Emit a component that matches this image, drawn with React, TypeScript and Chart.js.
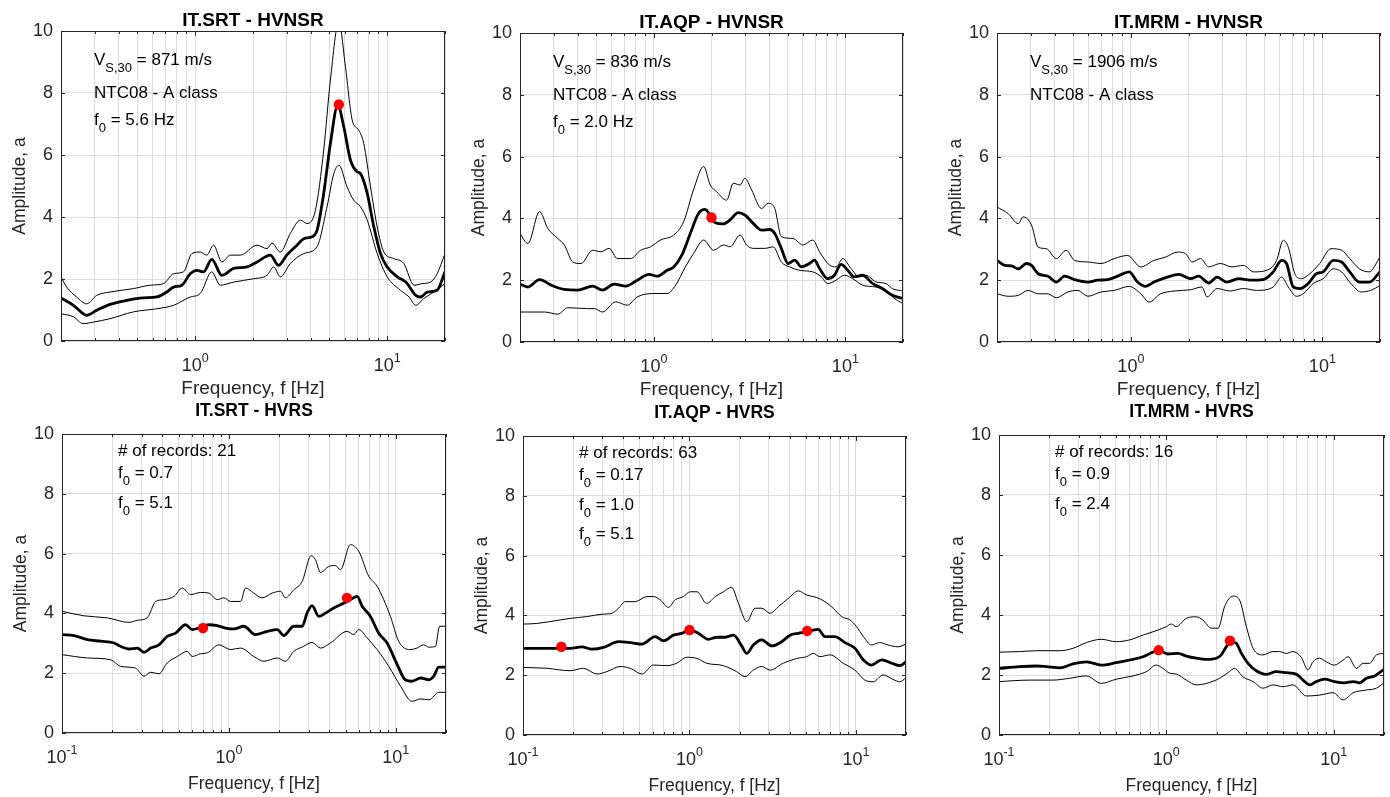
import React, { useEffect, useRef } from "react";
import { Chart, registerables } from "chart.js";

Chart.register(...registerables);

const FONT = '"Liberation Sans", Arial, Helvetica, sans-serif';

// ---------------- axis ticks ----------------
const topGridFreqs = [0.2, 0.3, 0.4, 0.5, 0.6, 0.7, 0.8, 0.9, 1, 2, 3, 4, 5, 6, 7, 8, 9, 10, 20];
const bottomGridFreqs = [0.1, 0.2, 0.3, 0.4, 0.5, 0.6, 0.7, 0.8, 0.9, 1, 2, 3, 4, 5, 6, 7, 8, 9, 10, 20];
const topDecadeLabels = [1, 10];
const bottomDecadeLabels = [0.1, 1, 10];
const ampTicks = [0, 2, 4, 6, 8, 10];

// ---------------- IT.SRT - HVNSR ----------------
const srtNoiseMeanF = [0.2, 0.232, 0.261, 0.272, 0.307, 0.36, 0.44, 0.537, 0.631, 0.711, 0.771, 0.852, 0.942, 1.02, 1.105, 1.22, 1.377, 1.585, 1.86, 2.1, 2.46, 2.72, 3.0, 3.39, 3.675, 4.06, 4.31, 4.67, 5.06, 5.53, 5.94, 6.44, 6.97, 7.26, 7.87, 8.52, 9.23, 10, 11.3, 12.5, 14.1, 14.9, 16.2, 18.2, 20];
const srtNoiseMeanA = [1.39, 1.15, 0.88, 0.83, 0.99, 1.18, 1.31, 1.39, 1.42, 1.58, 1.74, 1.8, 2.17, 2.28, 2.23, 2.63, 2.12, 2.34, 2.39, 2.55, 2.77, 2.44, 2.77, 3.09, 3.3, 3.36, 3.57, 4.76, 6.37, 7.61, 6.91, 5.83, 5.46, 5.4, 4.76, 3.68, 2.82, 2.39, 2.07, 1.9, 1.47, 1.42, 1.58, 1.64, 2.23];
const srtNoiseUpF = [0.2, 0.214, 0.241, 0.272, 0.307, 0.36, 0.477, 0.582, 0.684, 0.771, 0.869, 0.961, 1.062, 1.15, 1.246, 1.377, 1.523, 1.717, 2.1, 2.366, 2.512, 2.775, 3.13, 3.53, 3.826, 4.23, 4.67, 5.06, 5.6, 6.06, 6.57, 7.11, 7.55, 8.19, 8.87, 9.61, 10.8, 12.2, 13.8, 15.2, 16.8, 18.2, 20];
const srtNoiseUpA = [2.07, 1.74, 1.42, 1.2, 1.47, 1.58, 1.69, 1.8, 1.85, 2.17, 2.23, 2.82, 2.87, 2.77, 3.09, 2.55, 2.77, 2.77, 3.09, 2.98, 3.16, 2.87, 3.47, 3.9, 3.79, 4.22, 6.16, 8.42, 10.3, 8.85, 7.13, 6.8, 6.37, 4.97, 3.68, 2.87, 2.66, 2.5, 1.8, 1.85, 1.9, 2.17, 2.82];
const srtNoiseLoF = [0.2, 0.232, 0.261, 0.295, 0.36, 0.477, 0.631, 0.771, 0.942, 1.062, 1.22, 1.35, 1.585, 2.015, 2.366, 2.563, 2.775, 3.13, 3.675, 4.31, 4.86, 5.27, 5.6, 6.18, 6.7, 7.26, 7.87, 8.87, 10, 11.7, 13.0, 14.1, 15.5, 17.5, 20];
const srtNoiseLoA = [0.88, 0.78, 0.56, 0.61, 0.72, 0.94, 1.04, 1.15, 1.42, 1.53, 2.23, 1.8, 1.9, 2.01, 2.12, 2.39, 2.07, 2.5, 2.82, 3.04, 4.33, 5.4, 5.67, 4.97, 4.54, 4.33, 3.9, 2.82, 2.07, 1.64, 1.42, 1.15, 1.37, 1.58, 1.85];
const srtNoisePeakF = [5.6];
const srtNoisePeakA = [7.63];

// ---------------- IT.AQP - HVNSR ----------------
const aqpNoiseMeanF = [0.2, 0.22, 0.253, 0.291, 0.341, 0.4, 0.479, 0.539, 0.62, 0.713, 0.819, 0.942, 1.04, 1.173, 1.27, 1.4, 1.55, 1.71, 1.85, 2.01, 2.09, 2.31, 2.5, 2.76, 2.99, 3.3, 3.65, 4.03, 4.28, 4.63, 5.02, 5.44, 5.89, 6.5, 6.9, 7.33, 8.09, 8.77, 9.5, 10.3, 11.1, 12.3, 13.9, 15.6, 17.6, 20];
const aqpNoiseMeanA = [1.87, 1.78, 2.02, 1.84, 1.7, 1.68, 1.81, 1.68, 1.87, 1.81, 2.0, 2.19, 2.13, 2.32, 2.43, 2.81, 3.51, 4.16, 4.29, 4.0, 3.86, 3.82, 3.95, 4.19, 4.11, 3.84, 3.62, 3.64, 3.51, 3.03, 2.54, 2.65, 2.43, 2.54, 2.65, 2.38, 2.05, 2.16, 2.51, 2.32, 2.11, 2.16, 1.89, 1.73, 1.51, 1.41];
const aqpNoiseUpF = [0.2, 0.22, 0.253, 0.279, 0.315, 0.341, 0.377, 0.416, 0.479, 0.529, 0.584, 0.645, 0.757, 0.853, 0.961, 1.083, 1.27, 1.43, 1.61, 1.82, 1.97, 2.13, 2.4, 2.6, 2.82, 2.99, 3.24, 3.65, 3.95, 4.28, 4.63, 5.33, 6.0, 6.76, 7.33, 8.26, 8.95, 9.69, 10.7, 11.8, 12.8, 14.4, 16.3, 17.6, 20];
const aqpNoiseUpA = [3.51, 3.19, 4.22, 3.68, 3.35, 3.14, 2.59, 2.54, 2.97, 2.92, 3.03, 2.7, 2.7, 2.97, 3.08, 3.3, 3.46, 3.89, 4.92, 5.68, 5.08, 4.86, 4.59, 5.14, 5.08, 5.3, 4.92, 4.32, 4.49, 4.32, 3.41, 3.35, 3.14, 3.3, 2.92, 2.49, 2.43, 2.7, 2.38, 2.11, 2.16, 1.95, 1.89, 1.73, 1.65];
const aqpNoiseLoF = [0.2, 0.269, 0.315, 0.355, 0.451, 0.489, 0.539, 0.632, 0.727, 0.819, 1.0, 1.173, 1.3, 1.46, 1.61, 1.82, 2.05, 2.31, 2.5, 2.82, 3.05, 3.3, 3.8, 4.2, 4.63, 5.12, 5.77, 6.76, 7.48, 8.09, 8.95, 9.89, 10.9, 12.3, 14.4, 16.3, 17.6, 20];
const aqpNoiseLoA = [0.97, 0.97, 0.9, 1.11, 1.08, 1.08, 0.97, 1.3, 1.19, 1.46, 1.57, 1.57, 1.84, 2.43, 2.86, 3.3, 2.97, 3.14, 3.08, 3.46, 3.14, 3.03, 3.03, 3.08, 2.59, 2.43, 2.32, 2.27, 2.11, 1.89, 2.0, 2.16, 2.05, 1.84, 1.78, 1.68, 1.46, 1.24];
const aqpNoisePeakF = [2.0];
const aqpNoisePeakA = [4.03];

// ---------------- IT.MRM - HVNSR ----------------
const mrmNoiseMeanF = [0.2, 0.22, 0.238, 0.258, 0.285, 0.303, 0.328, 0.369, 0.408, 0.451, 0.508, 0.596, 0.671, 0.757, 0.853, 0.98, 1.083, 1.196, 1.32, 1.55, 1.78, 2.05, 2.26, 2.55, 2.82, 3.17, 3.65, 4.2, 4.92, 5.54, 6.13, 6.5, 7.05, 7.63, 8.43, 9.31, 10.1, 11.4, 12.6, 13.9, 15.6, 17.6, 20];
const mrmNoiseMeanA = [2.64, 2.48, 2.46, 2.37, 2.54, 2.48, 2.21, 2.13, 1.94, 2.13, 2.02, 1.94, 2.0, 2.02, 2.13, 2.27, 1.94, 1.8, 1.94, 2.1, 2.19, 2.05, 2.13, 1.91, 2.1, 1.94, 2.05, 2.0, 2.02, 2.27, 2.64, 2.54, 1.78, 1.73, 1.89, 2.21, 2.27, 2.64, 2.59, 2.27, 1.94, 1.94, 2.27];
const mrmNoiseUpF = [0.2, 0.229, 0.258, 0.274, 0.303, 0.328, 0.362, 0.408, 0.46, 0.508, 0.596, 0.699, 0.819, 0.961, 1.127, 1.32, 1.52, 1.75, 1.93, 2.09, 2.31, 2.55, 2.93, 3.37, 3.87, 4.37, 5.33, 5.77, 6.25, 6.64, 7.18, 7.78, 8.6, 9.69, 11.1, 12.6, 13.9, 15.6, 17.6, 20];
const mrmNoiseUpA = [4.37, 4.15, 3.83, 4.05, 3.78, 3.07, 3.02, 2.7, 2.97, 2.64, 2.59, 2.54, 2.7, 2.8, 2.43, 2.64, 2.75, 2.91, 2.86, 2.59, 2.7, 2.43, 2.54, 2.43, 2.48, 2.27, 2.37, 2.64, 3.29, 3.07, 2.21, 2.05, 2.21, 2.54, 3.02, 2.97, 2.7, 2.37, 2.27, 2.75];
const mrmNoiseLoF = [0.2, 0.229, 0.258, 0.291, 0.328, 0.369, 0.408, 0.469, 0.529, 0.596, 0.699, 0.819, 0.98, 1.127, 1.245, 1.43, 1.68, 2.05, 2.35, 2.5, 2.82, 3.3, 3.87, 4.54, 5.54, 6.13, 6.64, 7.33, 7.94, 8.95, 10.1, 11.4, 12.6, 14.1, 15.9, 17.9, 20];
const mrmNoiseLoA = [1.56, 1.48, 1.51, 1.67, 1.56, 1.56, 1.43, 1.62, 1.67, 1.48, 1.62, 1.67, 1.8, 1.56, 1.29, 1.56, 1.65, 1.69, 1.78, 1.46, 1.73, 1.65, 1.73, 1.67, 1.78, 2.1, 1.78, 1.48, 1.56, 1.89, 2.05, 2.37, 2.27, 1.89, 1.62, 1.67, 1.83];
const mrmNoisePeakF: number[] = [];
const mrmNoisePeakA: number[] = [];

// ---------------- IT.SRT - HVRS ----------------
const srtEqMeanF = [0.1, 0.118, 0.142, 0.171, 0.205, 0.224, 0.252, 0.283, 0.31, 0.34, 0.381, 0.427, 0.479, 0.55, 0.603, 0.661, 0.759, 0.851, 0.955, 1.071, 1.23, 1.44, 1.7, 1.95, 2.13, 2.45, 2.75, 2.94, 3.15, 3.46, 3.79, 4.25, 4.66, 5.11, 5.6, 5.87, 6.29, 7.05, 7.91, 8.87, 10.2, 11.4, 12.5, 14.1, 15.8, 16.9, 18.1, 20];
const srtEqMeanA = [3.29, 3.26, 3.12, 3.07, 3.01, 2.9, 2.81, 2.84, 2.7, 2.84, 2.95, 3.23, 3.34, 3.62, 3.46, 3.51, 3.62, 3.59, 3.51, 3.48, 3.57, 3.29, 3.4, 3.46, 3.26, 3.57, 3.57, 4.01, 4.26, 3.9, 4.01, 4.18, 4.29, 4.4, 4.52, 4.57, 4.24, 3.9, 3.34, 3.01, 2.29, 1.78, 1.73, 1.84, 1.78, 1.9, 2.2, 2.2];
const srtEqUpF = [0.1, 0.135, 0.187, 0.252, 0.283, 0.324, 0.364, 0.408, 0.469, 0.526, 0.589, 0.677, 0.759, 0.851, 0.933, 1.023, 1.174, 1.259, 1.41, 1.58, 1.82, 2.04, 2.18, 2.45, 2.75, 3.11, 3.3, 3.54, 3.97, 4.35, 4.66, 5.35, 6.0, 6.89, 7.73, 9.29, 10.4, 12.2, 13.4, 14.7, 15.8, 17.3, 18.3, 20];
const srtEqUpA = [4.07, 3.92, 3.85, 3.7, 3.77, 3.85, 4.4, 4.46, 4.57, 4.85, 4.63, 4.7, 4.68, 4.46, 4.52, 4.4, 4.4, 4.85, 4.68, 4.52, 4.68, 4.74, 4.52, 4.79, 5.07, 5.93, 5.8, 5.37, 5.57, 5.6, 5.46, 6.3, 6.08, 5.24, 4.91, 3.9, 3.07, 2.79, 2.84, 2.95, 2.87, 2.9, 3.57, 3.57];
const srtEqLoF = [0.1, 0.142, 0.196, 0.224, 0.276, 0.31, 0.34, 0.381, 0.427, 0.491, 0.563, 0.603, 0.677, 0.742, 0.871, 1.023, 1.174, 1.41, 1.62, 1.95, 2.18, 2.45, 2.81, 3.15, 3.54, 4.06, 5.11, 5.6, 6.0, 6.74, 7.73, 9.08, 10.7, 12.5, 14.1, 15.8, 18.1, 20];
const srtEqLoA = [2.62, 2.51, 2.45, 2.23, 2.17, 1.9, 2.03, 1.98, 2.34, 2.56, 2.73, 2.56, 2.65, 2.68, 2.95, 2.79, 2.84, 2.56, 2.4, 2.51, 2.4, 2.73, 2.9, 3.03, 2.84, 3.01, 3.4, 3.29, 3.46, 3.18, 2.79, 2.23, 1.56, 1.06, 1.14, 1.11, 1.36, 1.36];
const srtEqPeakF = [0.7, 5.1];
const srtEqPeakA = [3.51, 4.52];

// ---------------- IT.AQP - HVRS ----------------
const aqpEqMeanF = [0.1, 0.133, 0.166, 0.192, 0.226, 0.259, 0.305, 0.375, 0.441, 0.518, 0.622, 0.698, 0.802, 0.9, 1.01, 1.13, 1.3, 1.46, 1.64, 1.84, 2.06, 2.21, 2.42, 2.72, 3.12, 3.58, 4.02, 4.51, 5.06, 5.55, 5.94, 6.52, 7.48, 8.59, 9.86, 11.1, 12.4, 14.3, 16.4, 18.4, 20];
const aqpEqMeanA = [2.9, 2.9, 2.9, 2.9, 2.95, 2.87, 2.93, 3.12, 3.09, 3.04, 3.29, 3.15, 3.34, 3.4, 3.51, 3.4, 3.2, 3.27, 3.27, 3.34, 2.98, 2.73, 3.01, 3.18, 2.98, 3.12, 3.34, 3.4, 3.45, 3.51, 3.53, 3.29, 3.29, 3.09, 2.9, 2.51, 2.34, 2.51, 2.4, 2.32, 2.45];
const aqpEqUpF = [0.1, 0.121, 0.168, 0.192, 0.242, 0.298, 0.342, 0.375, 0.411, 0.472, 0.555, 0.608, 0.667, 0.748, 0.82, 0.92, 1.01, 1.11, 1.27, 1.43, 1.6, 1.79, 1.97, 2.21, 2.48, 2.72, 3.05, 3.42, 3.93, 4.51, 5.06, 5.81, 6.52, 7.31, 8.2, 9.2, 10.1, 11.1, 12.4, 13.9, 15.6, 17.9, 20];
const aqpEqUpA = [3.71, 3.73, 3.85, 3.9, 3.96, 4.04, 4.07, 4.24, 4.46, 4.46, 4.63, 4.63, 4.52, 4.27, 4.52, 4.63, 4.79, 4.79, 4.4, 4.63, 4.79, 4.94, 4.4, 3.79, 4.24, 4.24, 4.07, 4.29, 4.57, 4.82, 4.68, 4.6, 4.46, 4.24, 3.96, 3.85, 3.62, 3.29, 3.01, 3.09, 3.01, 2.95, 3.04];
const aqpEqLoF = [0.1, 0.139, 0.192, 0.231, 0.278, 0.319, 0.384, 0.441, 0.518, 0.608, 0.731, 0.839, 0.964, 1.11, 1.27, 1.6, 1.92, 2.16, 2.42, 2.72, 3.05, 3.66, 4.41, 5.06, 5.55, 6.08, 6.98, 8.39, 9.86, 11.3, 12.7, 14.6, 16.7, 18.4, 20];
const aqpEqLoA = [2.26, 2.23, 2.15, 2.23, 2.04, 2.12, 2.29, 2.23, 2.04, 2.34, 2.32, 2.4, 2.6, 2.56, 2.4, 2.32, 2.12, 1.95, 2.17, 2.29, 2.17, 2.4, 2.56, 2.62, 2.73, 2.62, 2.68, 2.4, 2.17, 1.84, 1.78, 2.01, 1.86, 1.78, 1.92];
const aqpEqPeakF = [0.17, 1.0, 5.1];
const aqpEqPeakA = [2.95, 3.51, 3.48];

// ---------------- IT.MRM - HVRS ----------------
const mrmEqMeanF = [0.1, 0.133, 0.167, 0.192, 0.231, 0.277, 0.333, 0.409, 0.502, 0.604, 0.726, 0.832, 0.912, 1.023, 1.174, 1.317, 1.511, 1.734, 1.99, 2.13, 2.28, 2.44, 2.62, 2.81, 3.08, 3.45, 3.96, 4.54, 5.21, 5.98, 6.56, 7.19, 7.87, 8.84, 10.1, 11.6, 13.1, 14.3, 15.7, 17.6, 20];
const mrmEqMeanA = [2.22, 2.28, 2.3, 2.28, 2.24, 2.37, 2.44, 2.33, 2.41, 2.5, 2.61, 2.76, 2.81, 2.7, 2.72, 2.63, 2.56, 2.52, 2.56, 2.67, 2.94, 3.11, 3.06, 2.72, 2.39, 2.14, 2.02, 2.11, 2.08, 2.03, 1.83, 1.67, 1.78, 1.86, 1.78, 1.74, 1.78, 1.74, 1.89, 1.97, 2.19];
const mrmEqUpF = [0.1, 0.133, 0.167, 0.231, 0.277, 0.333, 0.409, 0.502, 0.604, 0.726, 0.832, 1.0, 1.071, 1.147, 1.317, 1.511, 1.656, 1.857, 2.04, 2.23, 2.5, 2.74, 3.01, 3.3, 3.78, 4.34, 4.75, 5.21, 5.71, 6.41, 7.02, 7.52, 8.25, 9.04, 10.1, 11.4, 12.2, 13.7, 15.0, 16.4, 18.0, 20];
const mrmEqUpA = [2.76, 2.78, 2.81, 2.81, 2.89, 3.08, 3.19, 3.11, 3.17, 3.33, 3.44, 3.61, 3.7, 3.61, 3.89, 3.94, 3.83, 3.56, 3.56, 4.28, 4.63, 4.5, 3.61, 2.89, 2.67, 2.78, 2.78, 2.72, 2.78, 2.59, 2.17, 2.44, 2.56, 2.44, 2.33, 2.5, 2.61, 2.22, 2.39, 2.39, 2.67, 2.72];
const mrmEqLoF = [0.1, 0.152, 0.21, 0.264, 0.333, 0.409, 0.502, 0.632, 0.759, 0.871, 0.955, 1.047, 1.147, 1.317, 1.511, 1.734, 2.08, 2.34, 2.56, 2.87, 3.3, 3.78, 4.34, 4.98, 5.71, 6.87, 8.25, 9.91, 11.4, 13.1, 15.7, 18.0, 20];
const mrmEqLoA = [1.78, 1.83, 1.83, 1.89, 1.97, 1.72, 1.86, 1.97, 2.11, 2.33, 2.22, 2.06, 2.03, 1.83, 1.67, 1.72, 1.89, 2.08, 2.22, 1.94, 1.78, 1.56, 1.67, 1.61, 1.67, 1.3, 1.33, 1.41, 1.17, 1.41, 1.5, 1.56, 1.74];
const mrmEqPeakF = [0.9, 2.4];
const mrmEqPeakA = [2.83, 3.14];

// ---------------- text ----------------
type Seg = [string, boolean]; // [text, isSubscript]
const srtNoiseNotes: Seg[][] = [
  [["V", false], ["S,30", true], [" = 871 m/s", false]],
  [["NTC08 - A class", false]],
  [["f", false], ["0", true], [" = 5.6 Hz", false]],
];
const aqpNoiseNotes: Seg[][] = [
  [["V", false], ["S,30", true], [" = 836 m/s", false]],
  [["NTC08 - A class", false]],
  [["f", false], ["0", true], [" = 2.0 Hz", false]],
];
const mrmNoiseNotes: Seg[][] = [
  [["V", false], ["S,30", true], [" = 1906 m/s", false]],
  [["NTC08 - A class", false]],
];
const srtEqNotes: Seg[][] = [
  [["# of records: 21", false]],
  [["f", false], ["0", true], [" = 0.7", false]],
  [["f", false], ["0", true], [" = 5.1", false]],
];
const aqpEqNotes: Seg[][] = [
  [["# of records: 63", false]],
  [["f", false], ["0", true], [" = 0.17", false]],
  [["f", false], ["0", true], [" = 1.0", false]],
  [["f", false], ["0", true], [" = 5.1", false]],
];
const mrmEqNotes: Seg[][] = [
  [["# of records: 16", false]],
  [["f", false], ["0", true], [" = 0.9", false]],
  [["f", false], ["0", true], [" = 2.4", false]],
];

const xAxisTitle = "Frequency, f [Hz]";
const yAxisTitle = "Amplitude, a";

// ---------------- layout / style ----------------
type Rect = { l: number; r: number; t: number; b: number };
const Y_AXIS_W = 45;
const rowStyles = [
  { canvasTop: 0, canvasH: 400, titleSize: 19, titleDy: -5, xLabelSize: 19, xLabelDy: 53, noteDx: 33, noteDys: [34, 67, 94, 121] },
  { canvasTop: 400, canvasH: 397, titleSize: 17.5, titleDy: -18, xLabelSize: 17.5, xLabelDy: 56, noteDx: 56, noteDys: [22, 44, 73.5, 103] },
];
const colCanvas = [
  { x: 0, w: 460 },
  { x: 460, w: 470 },
  { x: 930, w: 460 },
];

type PanelCfg = {
  key: string;
  title: string;
  row: number;
  col: number;
  plot: Rect;
  xMin: number;
  grid: number[];
  decades: number[];
  mean: [number[], number[]];
  upper: [number[], number[]];
  lower: [number[], number[]];
  peaks: [number[], number[]];
  notes: Seg[][];
};

const panels: PanelCfg[] = [
  { key: "a", title: "IT.SRT - HVNSR", row: 0, col: 0, plot: { l: 61, r: 445, t: 31, b: 341 }, xMin: 0.2, grid: topGridFreqs, decades: topDecadeLabels,
    mean: [srtNoiseMeanF, srtNoiseMeanA], upper: [srtNoiseUpF, srtNoiseUpA], lower: [srtNoiseLoF, srtNoiseLoA], peaks: [srtNoisePeakF, srtNoisePeakA], notes: srtNoiseNotes },
  { key: "b", title: "IT.AQP - HVNSR", row: 0, col: 1, plot: { l: 520, r: 903, t: 33, b: 342 }, xMin: 0.2, grid: topGridFreqs, decades: topDecadeLabels,
    mean: [aqpNoiseMeanF, aqpNoiseMeanA], upper: [aqpNoiseUpF, aqpNoiseUpA], lower: [aqpNoiseLoF, aqpNoiseLoA], peaks: [aqpNoisePeakF, aqpNoisePeakA], notes: aqpNoiseNotes },
  { key: "c", title: "IT.MRM - HVNSR", row: 0, col: 2, plot: { l: 997, r: 1380, t: 33, b: 342 }, xMin: 0.2, grid: topGridFreqs, decades: topDecadeLabels,
    mean: [mrmNoiseMeanF, mrmNoiseMeanA], upper: [mrmNoiseUpF, mrmNoiseUpA], lower: [mrmNoiseLoF, mrmNoiseLoA], peaks: [mrmNoisePeakF, mrmNoisePeakA], notes: mrmNoiseNotes },
  { key: "d", title: "IT.SRT - HVRS", row: 1, col: 0, plot: { l: 62, r: 446, t: 434, b: 733 }, xMin: 0.1, grid: bottomGridFreqs, decades: bottomDecadeLabels,
    mean: [srtEqMeanF, srtEqMeanA], upper: [srtEqUpF, srtEqUpA], lower: [srtEqLoF, srtEqLoA], peaks: [srtEqPeakF, srtEqPeakA], notes: srtEqNotes },
  { key: "e", title: "IT.AQP - HVRS", row: 1, col: 1, plot: { l: 523, r: 906, t: 436, b: 735 }, xMin: 0.1, grid: bottomGridFreqs, decades: bottomDecadeLabels,
    mean: [aqpEqMeanF, aqpEqMeanA], upper: [aqpEqUpF, aqpEqUpA], lower: [aqpEqLoF, aqpEqLoA], peaks: [aqpEqPeakF, aqpEqPeakA], notes: aqpEqNotes },
  { key: "f", title: "IT.MRM - HVRS", row: 1, col: 2, plot: { l: 999, r: 1384, t: 435, b: 735 }, xMin: 0.1, grid: bottomGridFreqs, decades: bottomDecadeLabels,
    mean: [mrmEqMeanF, mrmEqMeanA], upper: [mrmEqUpF, mrmEqUpA], lower: [mrmEqLoF, mrmEqLoA], peaks: [mrmEqPeakF, mrmEqPeakA], notes: mrmEqNotes },
];

const GRID_COLOR = "#dcdcdc";
const AXIS_COLOR = "#262626";
const toPoints = (fs: number[], as: number[]) => fs.map((f, i) => ({ x: f, y: as[i] }));

function makePlugin(p: PanelCfg) {
  const rs = rowStyles[p.row];
  return {
    id: "panelDecor" + p.key,
    afterDraw(chart: any) {
      const { ctx, chartArea: a } = chart;
      const xs = chart.scales.x;
      const ys = chart.scales.y;
      ctx.save();
      // inner ticks
      ctx.strokeStyle = AXIS_COLOR;
      ctx.lineWidth = 1;
      ctx.beginPath();
      for (const v of p.grid) {
        const px = Math.round(xs.getPixelForValue(v)) + 0.5;
        const len = p.decades.includes(v) ? 5 : 3;
        ctx.moveTo(px, a.bottom);
        ctx.lineTo(px, a.bottom - len);
        ctx.moveTo(px, a.top);
        ctx.lineTo(px, a.top + len);
      }
      for (const v of ampTicks) {
        const py = Math.round(ys.getPixelForValue(v)) + 0.5;
        ctx.moveTo(a.left, py);
        ctx.lineTo(a.left + 4, py);
        ctx.moveTo(a.right, py);
        ctx.lineTo(a.right - 4, py);
      }
      ctx.stroke();
      // box
      ctx.strokeStyle = AXIS_COLOR;
      ctx.strokeRect(Math.round(a.left) + 0.5, Math.round(a.top) + 0.5, Math.round(a.right - a.left) - 1, Math.round(a.bottom - a.top) - 1);

      // x tick labels: 10 with superscript exponent
      ctx.fillStyle = AXIS_COLOR;
      ctx.textBaseline = "alphabetic";
      ctx.textAlign = "left";
      for (const d of p.decades) {
        const px = xs.getPixelForValue(d);
        const exp = String(Math.round(Math.log10(d)));
        ctx.font = `18px ${FONT}`;
        const w1 = ctx.measureText("10").width;
        ctx.font = `12.5px ${FONT}`;
        const w2 = ctx.measureText(exp).width;
        const start = px - (w1 + w2) / 2;
        ctx.font = `18px ${FONT}`;
        ctx.fillText("10", start, a.bottom + 30);
        ctx.font = `12.5px ${FONT}`;
        ctx.fillText(exp, start + w1, a.bottom + 21);
      }
      // x axis title
      ctx.textAlign = "center";
      ctx.font = `${rs.xLabelSize}px ${FONT}`;
      ctx.fillText(xAxisTitle, (a.left + a.right) / 2, a.bottom + rs.xLabelDy);
      // y axis title
      ctx.save();
      ctx.translate(a.left - 36, (a.top + a.bottom) / 2);
      ctx.rotate(-Math.PI / 2);
      ctx.font = `17.5px ${FONT}`;
      ctx.textAlign = "center";
      ctx.fillText(yAxisTitle, 0, 0);
      ctx.restore();
      // title
      ctx.fillStyle = "#000";
      ctx.textAlign = "center";
      ctx.font = `bold ${rs.titleSize}px ${FONT}`;
      ctx.fillText(p.title, (a.left + a.right) / 2, a.top + rs.titleDy);
      // notes
      ctx.textAlign = "left";
      p.notes.forEach((line, i) => {
        let x = a.left + rs.noteDx;
        const y = a.top + rs.noteDys[i];
        for (const [text, sub] of line) {
          ctx.font = sub ? `13px ${FONT}` : `17px ${FONT}`;
          ctx.fillText(text, x, sub ? y + 7 : y);
          x += ctx.measureText(text).width;
        }
      });
      ctx.restore();
    },
  };
}

function buildConfig(p: PanelCfg): any {
  const rs = rowStyles[p.row];
  const cc = colCanvas[p.col];
  const padding = {
    left: p.plot.l - cc.x - Y_AXIS_W,
    right: cc.x + cc.w - p.plot.r,
    top: p.plot.t - rs.canvasTop,
    bottom: rs.canvasTop + rs.canvasH - p.plot.b,
  };
  const lineBase = { pointRadius: 0, borderColor: "#000", backgroundColor: "#000", fill: false, cubicInterpolationMode: "monotone" };
  return {
    type: "line",
    data: {
      datasets: [
        { type: "scatter", data: toPoints(p.peaks[0], p.peaks[1]), pointRadius: 5.2, pointBackgroundColor: "#ff0000", pointBorderWidth: 0, borderWidth: 0, backgroundColor: "#ff0000", showLine: false, order: 0 },
        { ...lineBase, data: toPoints(p.mean[0], p.mean[1]), borderWidth: 2.8, order: 1 },
        { ...lineBase, data: toPoints(p.upper[0], p.upper[1]), borderWidth: 1, order: 2 },
        { ...lineBase, data: toPoints(p.lower[0], p.lower[1]), borderWidth: 1, order: 3 },
      ],
    },
    options: {
      responsive: false,
      animation: false,
      events: [],
      layout: { padding },
      plugins: { legend: { display: false }, tooltip: { enabled: false }, title: { display: false } },
      scales: {
        x: {
          type: "logarithmic",
          min: p.xMin,
          max: 20,
          afterBuildTicks: (s: any) => {
            s.ticks = p.grid.map((v) => ({ value: v }));
          },
          afterFit: (s: any) => {
            s.height = 0;
          },
          ticks: { display: false },
          grid: { color: GRID_COLOR, lineWidth: 1, drawTicks: false },
          border: { display: false },
        },
        y: {
          type: "linear",
          min: 0,
          max: 10,
          afterBuildTicks: (s: any) => {
            s.ticks = ampTicks.map((v) => ({ value: v }));
          },
          afterFit: (s: any) => {
            s.width = Y_AXIS_W;
          },
          ticks: { font: { family: FONT, size: 18 }, color: AXIS_COLOR, padding: 8 },
          grid: { color: GRID_COLOR, lineWidth: 1, drawTicks: false },
          border: { display: false },
        },
      },
    },
    plugins: [makePlugin(p)],
  };
}

function PanelChart({ cfg }: { cfg: PanelCfg }) {
  const ref = useRef<HTMLCanvasElement>(null);
  const rs = rowStyles[cfg.row];
  const cc = colCanvas[cfg.col];
  useEffect(() => {
    if (!ref.current) return;
    const chart = new Chart(ref.current, buildConfig(cfg));
    return () => chart.destroy();
  }, [cfg]);
  return (
    <canvas
      ref={ref}
      width={cc.w}
      height={rs.canvasH}
      style={{ position: "absolute", left: cc.x, top: rs.canvasTop, width: cc.w, height: rs.canvasH }}
    />
  );
}

export default function App() {
  return (
    <div style={{ position: "fixed", left: 0, top: 0, width: 1390, height: 797, background: "#fff", overflow: "hidden" }}>
      {panels.map((p) => (
        <PanelChart key={p.key} cfg={p} />
      ))}
    </div>
  );
}
